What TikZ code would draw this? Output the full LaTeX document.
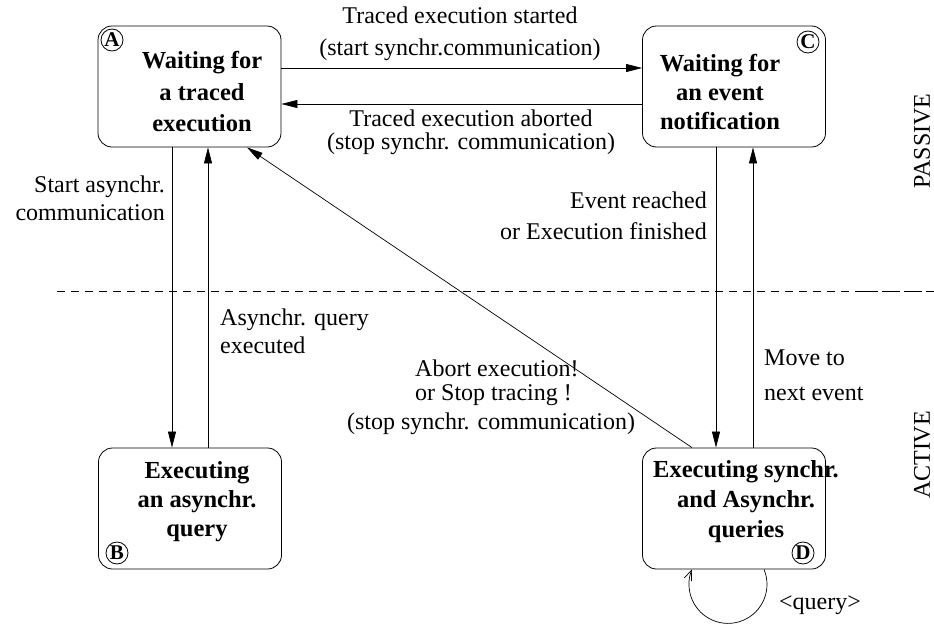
\documentclass[tikz,border=0pt]{standalone}
\usepackage{fontspec}
\setmainfont{Liberation Serif}
\usetikzlibrary{arrows.meta}
\begin{document}
\begin{tikzpicture}[x=1pt,y=-1pt,
  statebox/.style={draw,rounded corners=14pt,line width=0.8pt,minimum width=183pt,minimum height=121pt,inner sep=0pt},
  boxtext/.style={align=center,inner sep=0pt,font=\fontsize{24.5}{#1}\selectfont\bfseries},
  lbl/.style={inner sep=0pt,font=\fontsize{24}{#1}\selectfont},
  letter/.style={draw,circle,line width=0.8pt,inner sep=0pt,minimum size=22pt,font=\fontsize{21}{21}\selectfont\bfseries},
  arr/.style={line width=0.7pt,-{Triangle[length=16pt,width=8pt]}},
  looparr/.style={line width=0.7pt,-{Straight Barb[length=10pt,width=8pt]}}]
\useasboundingbox (0,0) rectangle (934,624);
% states
\node[statebox] (A) at (189.5,86.5) {};
\node[statebox] (C) at (734,86.5) {};
\node[statebox] (B) at (190,508.5) {};
\node[statebox] (D) at (734,508.5) {};
\node[boxtext=31.5] (At) at (202,92) {Waiting for\\a traced\\execution};
\node[boxtext=29] (Ct) at (720,92) {Waiting for\\an event\\notification};
\node[boxtext=29] (Bt) at (197,502) {Executing\\an asynchr.\\query};
\node[boxtext=30] (Dt) at (746,502) {Executing synchr.\\and Asynchr.\\queries};
\node[letter] (La) at (112,40) {A};
\node[letter] (Lc) at (808,42) {C};
\node[letter] (Lb) at (117,553) {B};
\node[letter] (Ld) at (803,553) {D};
% separator
\draw[line width=0.7pt,dash pattern=on 8pt off 6pt] (57,291) -- (860,291);
\draw[line width=0.7pt,dash pattern=on 18pt off 4pt] (860,291) -- (934,291);
% connectors
\draw[arr] (A.east |- 0,68) -- (C.west |- 0,68);
\draw[arr] (C.west |- 0,104) -- (A.east |- 0,104);
\draw[arr] (A.south -| 172,0) -- (B.north -| 172,0);
\draw[arr] (B.north -| 208,0) -- (A.south -| 208,0);
\draw[arr] (C.south -| 716,0) -- (D.north -| 716,0);
\draw[arr] (D.north -| 753,0) -- (C.south -| 753,0);
\draw[arr] (D.north -| 692,0) -- (A.south -| 247,0);
\draw[looparr] (D.south -| 764,0) arc[start angle=-22.6,end angle=202.6,radius=39];
% labels
\node[lbl=32,align=center] (l1) at (460,34) {Traced execution started\\(start synchr.communication)};
\node[lbl=23,align=center] (l2) at (471,132) {Traced execution aborted\\(stop synchr. communication)};
\node[lbl=28,align=right,anchor=east] (l3) at (165,198) {Start asynchr.\\communication};
\node[lbl=28,align=left,anchor=west] (l4) at (220,331) {Asynchr. query\\executed};
\node[lbl=31,align=right,anchor=east] (l5) at (707,215.5) {Event reached\\or Execution finished};
\node[lbl=24,align=left,anchor=west] (l6) at (415,382.5) {Abort execution!\\or Stop tracing !};
\node[lbl=24] (l7) at (491,424) {(stop synchr. communication)};
\node[lbl=35,align=left,anchor=west] (l8) at (764,375.5) {Move to\\next event};
\node[lbl=24] (l9) at (820,605) {<query>};
\node[lbl=24,rotate=90] (p) at (922,141) {PASSIVE};
\node[lbl=24,rotate=90] (q) at (922,455) {ACTIVE};
\end{tikzpicture}
\end{document}
